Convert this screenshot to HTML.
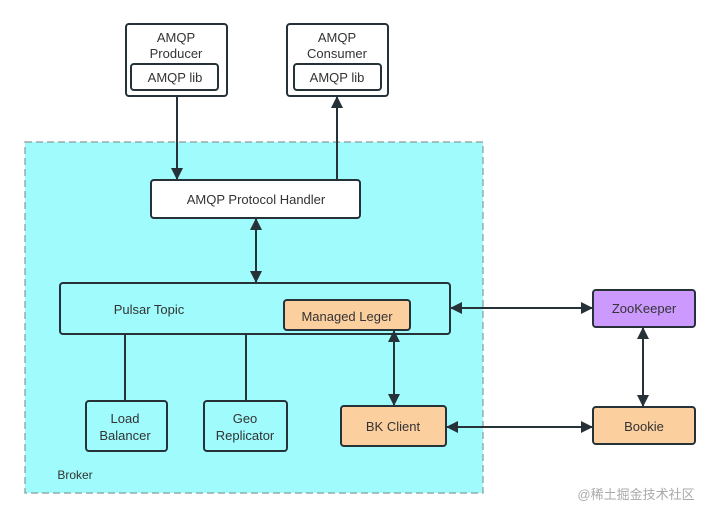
<!DOCTYPE html>
<html><head><meta charset="utf-8"><style>
html,body{margin:0;padding:0;background:#fff;}
svg{display:block}
text{font-family:"Liberation Sans","Noto Sans CJK SC",sans-serif;font-size:13px;fill:#333;text-anchor:middle}
</style></head><body>
<svg width="720" height="519" viewBox="0 0 720 519" xmlns="http://www.w3.org/2000/svg">
<defs>
<marker id="a" viewBox="0 0 10 10" refX="9" refY="5" markerWidth="7" markerHeight="7" orient="auto-start-reverse" markerUnits="userSpaceOnUse"><path d="M0,0 L10,5 L0,10 z" fill="#263238"/></marker>
<marker id="b" viewBox="0 0 12 12" refX="11" refY="6" markerWidth="12" markerHeight="12" orient="auto-start-reverse" markerUnits="userSpaceOnUse"><path d="M0,0 L12,6 L0,12 z" fill="#263238"/></marker>
</defs>
<rect x="25" y="142" width="458" height="351" fill="#9ffbfc" stroke="#8a9a9a" stroke-width="1.2" stroke-dasharray="7,4"/>
<g stroke="#263238" stroke-width="2" fill="none">
<rect x="126" y="24" width="101" height="72" rx="3" fill="#fff"/>
<rect x="131" y="64" width="87" height="26" rx="3" fill="#fff"/>
<rect x="287" y="24" width="101" height="72" rx="3" fill="#fff"/>
<rect x="294" y="64" width="87" height="26" rx="3" fill="#fff"/>
<rect x="151" y="180" width="209" height="38" rx="3" fill="#fff"/>
<rect x="60" y="283" width="390" height="51" rx="3" fill="#9ffbfc"/>
<rect x="284" y="300" width="126" height="30" rx="3" fill="#fccf9f"/>
<rect x="86" y="401" width="81" height="50" rx="3" fill="#9ffbfc"/>
<rect x="204" y="401" width="83" height="50" rx="3" fill="#9ffbfc"/>
<rect x="341" y="406" width="105" height="40" rx="3" fill="#fccf9f"/>
<rect x="593" y="290" width="102" height="37" rx="3" fill="#cc99ff"/>
<rect x="593" y="407" width="102" height="37" rx="3" fill="#fccf9f"/>
<line x1="177" y1="96" x2="177" y2="179" marker-end="url(#b)"/>
<line x1="337" y1="180" x2="337" y2="97" marker-end="url(#b)"/>
<line x1="256" y1="219" x2="256" y2="282" marker-start="url(#b)" marker-end="url(#b)"/>
<line x1="125" y1="334" x2="125" y2="401"/>
<line x1="246" y1="334" x2="246" y2="401"/>
<line x1="394" y1="331" x2="394" y2="405" marker-start="url(#b)" marker-end="url(#b)"/>
<line x1="451" y1="308" x2="592" y2="308" marker-start="url(#b)" marker-end="url(#b)"/>
<line x1="447" y1="427" x2="592" y2="427" marker-start="url(#b)" marker-end="url(#b)"/>
<line x1="643" y1="328" x2="643" y2="406" marker-start="url(#b)" marker-end="url(#b)"/>
</g>
<text x="176" y="42">AMQP</text>
<text x="176" y="58">Producer</text>
<text x="175" y="82">AMQP lib</text>
<text x="337" y="42">AMQP</text>
<text x="337" y="58">Consumer</text>
<text x="337" y="82">AMQP lib</text>
<text x="256" y="204">AMQP Protocol Handler</text>
<text x="149" y="314">Pulsar Topic</text>
<text x="347" y="321">Managed Leger</text>
<text x="125" y="423">Load</text>
<text x="125" y="440">Balancer</text>
<text x="245" y="423">Geo</text>
<text x="245" y="440">Replicator</text>
<text x="393" y="431">BK Client</text>
<text x="644" y="313">ZooKeeper</text>
<text x="644" y="431">Bookie</text>
<text x="75" y="479" style="font-size:12px">Broker</text>
<text x="636" y="499" style="fill:#aaa;font-size:13px">@稀土掘金技术社区</text>
</svg>
</body></html>
